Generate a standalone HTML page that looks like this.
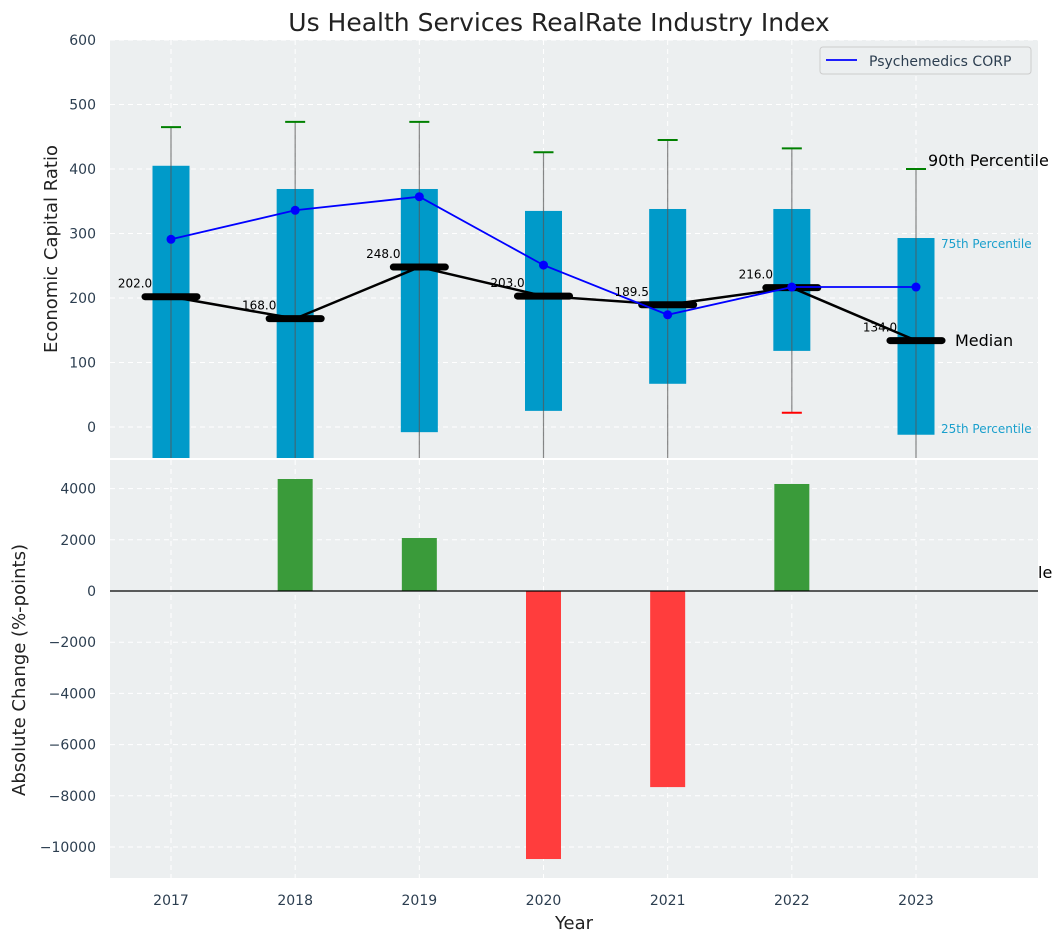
<!DOCTYPE html>
<html><head><meta charset="utf-8"><style>body{margin:0;background:#fff}svg{font-family:"DejaVu Sans","Liberation Sans",sans-serif}</style></head>
<body>
<svg id="c" width="1063" height="942" xmlns="http://www.w3.org/2000/svg"></svg>
<script>
const years=[2017,2018,2019,2020,2021,2022,2023];
const q75=[405,369,369,335,338,338,293];
const q25=[-100,-100,-8,25,67,118,-12];
const p90=[465,473,473,426,445,432,400];
const p10=[-150,-150,-150,-150,-150,22,-150];
const medians=[202,168,248,203,189.5,216,134];
const company=[291,336,357,251,174,217,217];
const changes=[0,4375,2070,-10470,-7660,4180,0];
const topTicks=[0,100,200,300,400,500,600];
const botTicks=[-10000,-8000,-6000,-4000,-2000,0,2000,4000];
const NS="http://www.w3.org/2000/svg",svg=document.getElementById('c');
function el(t,a,p){const e=document.createElementNS(NS,t);for(const k in a)e.setAttribute(k,a[k]);(p||svg).appendChild(e);return e;}
const L=110,R=1038,T1=40,B1=458,T2=460,B2=878;
const x=i=>171+(916-171)/6*i;
const y1=v=>427-v*0.645;
const y2=v=>591-v*0.0256;
let b=el('rect',{x:L,y:T1,width:R-L,height:B1-T1,fill:'#eceff0'});

b=el('rect',{x:L,y:T2,width:R-L,height:B2-T2,fill:'#eceff0'});

el('clipPath',{id:'cp1'});el('rect',{x:L,y:T1,width:R-L,height:B1-T1},svg.lastChild);
el('clipPath',{id:'cp2'});el('rect',{x:L,y:T2,width:R-L,height:B2-T2},svg.lastChild);
const g1=el('g',{'clip-path':'url(#cp1)'}),g2=el('g',{'clip-path':'url(#cp2)'});
topTicks.forEach(v=>{el('line',{x1:L,x2:R,y1:y1(v),y2:y1(v),stroke:'#fff','stroke-dasharray':'5,4'},g1);
 const t=el('text',{x:96,y:y1(v)+5,'text-anchor':'end','font-size':14,fill:'#2c3e50'});t.textContent=v;
 });
botTicks.forEach(v=>{el('line',{x1:L,x2:R,y1:y2(v),y2:y2(v),stroke:'#fff','stroke-dasharray':'5,4'},g2);
 const t=el('text',{x:96,y:y2(v)+5,'text-anchor':'end','font-size':14,fill:'#2c3e50'});t.textContent=v<0?'\u2212'+(-v):v;
 });
years.forEach((yr,i)=>{el('line',{x1:x(i),x2:x(i),y1:T1,y2:B1,stroke:'#fff','stroke-dasharray':'5,4'},g1);
 el('line',{x1:x(i),x2:x(i),y1:T2,y2:B2,stroke:'#fff','stroke-dasharray':'5,4'},g2);
 const t=el('text',{x:x(i),y:905,'text-anchor':'middle','font-size':14,fill:'#2c3e50'});t.textContent=yr;
 });
years.forEach((yr,i)=>{
 const r=el('rect',{x:x(i)-18.5,y:y1(q75[i]),width:37,height:y1(q25[i])-y1(q75[i]),fill:'#009ac9'},g1);
 
 el('line',{x1:x(i),x2:x(i),y1:y1(p90[i]),y2:y1(p10[i]),stroke:'#555','stroke-opacity':0.7,'stroke-width':1.2},g1);
 el('line',{x1:x(i)-10,x2:x(i)+10,y1:y1(p90[i]),y2:y1(p90[i]),stroke:'green','stroke-width':2},g1);
 el('line',{x1:x(i)-10,x2:x(i)+10,y1:y1(p10[i]),y2:y1(p10[i]),stroke:'red','stroke-width':2},g1);
});
el('polyline',{points:medians.map((v,i)=>x(i)+','+y1(v)).join(' '),fill:'none',stroke:'#000','stroke-width':2.5},g1);
medians.forEach((v,i)=>{const m=el('line',{x1:x(i)-26,x2:x(i)+26,y1:y1(v),y2:y1(v),stroke:'#000','stroke-width':7,'stroke-linecap':'round'},g1);
 
 const t=el('text',{x:x(i)-36,y:y1(v)-9,'text-anchor':'middle','font-size':12,fill:'#000'});t.textContent=v.toFixed(1);
 });
const pl=el('polyline',{points:company.map((v,i)=>x(i)+','+y1(v)).join(' '),fill:'none',stroke:'#0000ff','stroke-width':1.8},g1);

company.forEach((v,i)=>{const c=el('circle',{cx:x(i),cy:y1(v),r:4.5,fill:'#0000ff'},g1);
 });
function txt(s,a,n){const t=el('text',a);t.textContent=s;return t;}
txt('90th Percentile',{x:928,y:166,'font-size':16,fill:'#000'},'p90-annotation');
txt('75th Percentile',{x:941,y:248,'font-size':12,fill:'#1a9fcc'},'p75-annotation');
txt('Median',{x:955,y:346,'font-size':16,fill:'#000'},'median-annotation');
txt('25th Percentile',{x:941,y:433,'font-size':12,fill:'#1a9fcc'},'p25-annotation');
txt('le',{x:1038,y:578,'font-size':16,fill:'#000'},'clipped-annotation');
changes.forEach((v,i)=>{const r=el('rect',{x:x(i)-17.5,y:Math.min(y2(v),y2(0)),width:35,height:Math.abs(y2(v)-y2(0)),fill:v>=0?'#3a9b3a':'#ff3d3d'},g2);
 });
el('line',{x1:L,x2:R,y1:y2(0),y2:y2(0),stroke:'#000','stroke-width':1.2},g2);
const lg=el('g',{});
el('rect',{x:820,y:47,width:211,height:27,rx:3,fill:'#eceff0',stroke:'#ccc'},lg);
el('line',{x1:826,x2:857,y1:60,y2:60,stroke:'#0000ff','stroke-width':1.8},lg);
txt('Psychemedics CORP',{x:869,y:66,'font-size':14,fill:'#2c3e50'},'legend-entry');
txt('Us Health Services RealRate Industry Index',{x:559,y:31,'text-anchor':'middle','font-size':25,fill:'#222'},'chart-title');
txt('Year',{x:574,y:929,'text-anchor':'middle','font-size':18,fill:'#222'},'x-axis-title');
txt('Economic Capital Ratio',{x:0,y:0,transform:'translate(57,249) rotate(-90)','text-anchor':'middle','font-size':18,fill:'#222'},'y-axis-title');
txt('Absolute Change (%-points)',{x:0,y:0,transform:'translate(25,670) rotate(-90)','text-anchor':'middle','font-size':18,fill:'#222'},'y2-axis-title');
</script>
</body></html>
